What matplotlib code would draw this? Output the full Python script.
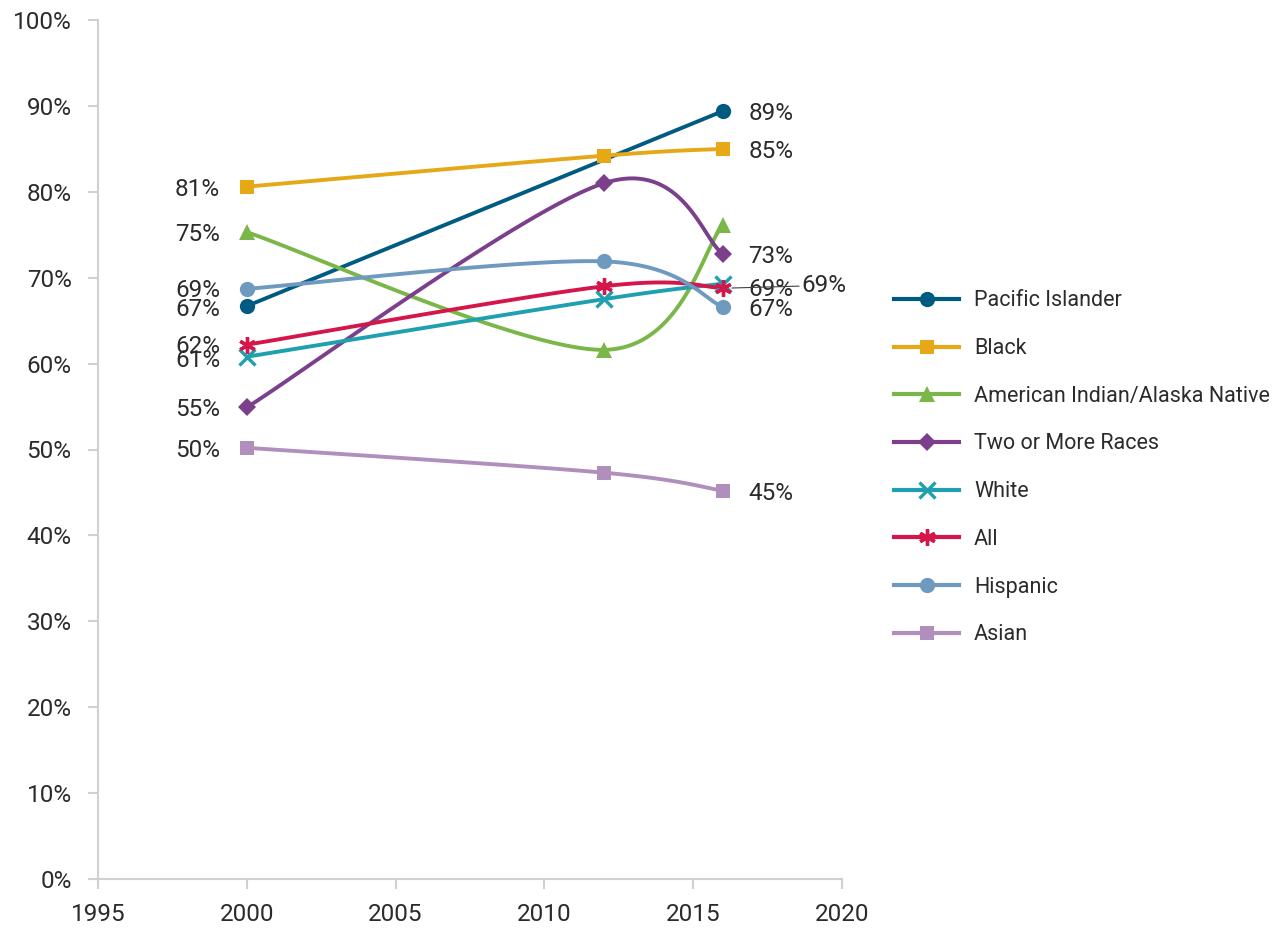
import numpy as np
import matplotlib
matplotlib.use("Agg")
import matplotlib.pyplot as plt
from matplotlib.lines import Line2D

plt.rcParams['font.family'] = ['Roboto', 'DejaVu Sans']

years_all = [2000, 2012, 2016]
series_names = ["Pacific Islander", "Black", "American Indian/Alaska Native",
                "Two or More Races", "White", "All", "Hispanic", "Asian"]
pacific_years = [2000, 2016]
pacific = [66.7, 89.4]
black = [80.6, 84.2, 85.0]
aian = [75.3, 61.6, 76.1]
two_more = [54.9, 81.0, 72.8]
white = [60.8, 67.5, 69.3]
all_ = [62.2, 69.0, 68.8]
hispanic = [68.7, 71.9, 66.6]
asian = [50.2, 47.3, 45.2]

colors = ["#005b82", "#e6a817", "#7ab648", "#7b3f8c", "#1fa0b0", "#d4164a", "#6f9abf", "#b08fbc"]
markers = ["o", "s", "^", "D", "x", (6, 2, 0), "o", "s"]
msizes = [11, 10, 11, 9, 11, 12, 11, 10]

data = [(pacific_years, pacific), (years_all, black), (years_all, aian), (years_all, two_more),
        (years_all, white), (years_all, all_), (years_all, hispanic), (years_all, asian)]


def smooth(xs, ys, n=60):
    xs = np.asarray(xs, float); ys = np.asarray(ys, float)
    if len(xs) < 3:
        return xs, ys
    P = np.column_stack([xs, ys])
    Pe = np.vstack([P[0], P, P[-1]])
    out = []
    for i in range(len(P) - 1):
        p0, p3 = P[i], P[i + 1]
        c1 = p0 + (Pe[i + 2] - Pe[i]) / 6.0
        c2 = p3 - (Pe[i + 3] - Pe[i + 1]) / 6.0
        t = np.linspace(0, 1, n)[:, None]
        seg = ((1 - t) ** 3) * p0 + 3 * ((1 - t) ** 2) * t * c1 + 3 * (1 - t) * t ** 2 * c2 + t ** 3 * p3
        out.append(seg if i == 0 else seg[1:])
    s = np.vstack(out)
    return s[:, 0], s[:, 1]


fig = plt.figure(figsize=(12.74, 9.33), dpi=100)
ax = fig.add_axes([98 / 1274, 1 - 879 / 933, (842 - 98) / 1274, (879 - 20) / 933])

txt = "#2b2b2b"
FS = 17.5
LFS = 15.5
DY = -0.3
for (xs, ys), name, c, m, ms in zip(data, series_names, colors, markers, msizes):
    sx, sy = smooth(xs, ys)
    ax.plot(sx, sy, color=c, lw=2.8, solid_capstyle='round', zorder=2)
    mew = 2.4 if m in ("x", (6, 2, 0)) else 0
    ax.plot(xs, ys, linestyle='none', marker=m, ms=ms, color=c, mec=c, mew=mew, zorder=3)

# left labels at 2000
left_vals = [pacific[0], black[0], aian[0], two_more[0], white[0], all_[0], hispanic[0], asian[0]]
left_off = [-0.1, 0, 0, 0, -0.1, 0.1, 0.1, 0]
for v, off in zip(left_vals, left_off):
    ax.text(1999.1, v + off + DY, f"{round(v):d}%", ha='right', va='center', fontsize=FS, color=txt)

right_vals = [(pacific[-1], 0), (black[-1], 0), (two_more[-1], 0), (white[-1], -0.4),
              (hispanic[-1], 0), (asian[-1], 0)]
for v, off in right_vals:
    ax.text(2016.85, v + off + DY, f"{round(v):d}%", ha='left', va='center', fontsize=FS, color=txt)
# All label with leader line
ax.annotate(f"{round(all_[-1]):d}%", xy=(2016.3, all_[-1]), xytext=(2018.65, 69.4 + DY),
            ha='left', va='center', fontsize=FS, color=txt,
            arrowprops=dict(arrowstyle='-', color='#404040', lw=0.8, shrinkA=0, shrinkB=0))

ax.set_xlim(1995, 2020)
ax.set_ylim(0, 100)
ax.set_xticks(range(1995, 2021, 5))
ax.set_yticks(range(0, 101, 10))
ax.set_yticklabels([f"{v}%" for v in range(0, 101, 10)])
for s in ["top", "right"]:
    ax.spines[s].set_visible(False)
for s in ["left", "bottom"]:
    ax.spines[s].set_color("#d0d0d0")
    ax.spines[s].set_linewidth(1.5)
ax.tick_params(axis='both', colors="#d0d0d0", width=1.5, length=7, labelcolor=txt, labelsize=FS)
ax.tick_params(axis='y', pad=12)
ax.tick_params(axis='x', pad=10)
ax.patch.set_visible(False)

handles = [Line2D([0], [0], color=c, lw=3, marker=m, ms=ms, mec=c,
                  mew=(2.4 if m in ("x", (6, 2, 0)) else 0))
           for c, m, ms in zip(colors, markers, msizes)]
fig.legend(handles, series_names, loc='upper left', bbox_to_anchor=(875 / 1274, 1 - 271 / 933),
           frameon=False, fontsize=LFS, handlelength=3.0, labelspacing=1.24, handletextpad=0.7,
           labelcolor=txt)

fig.savefig("out.png", dpi=100)
